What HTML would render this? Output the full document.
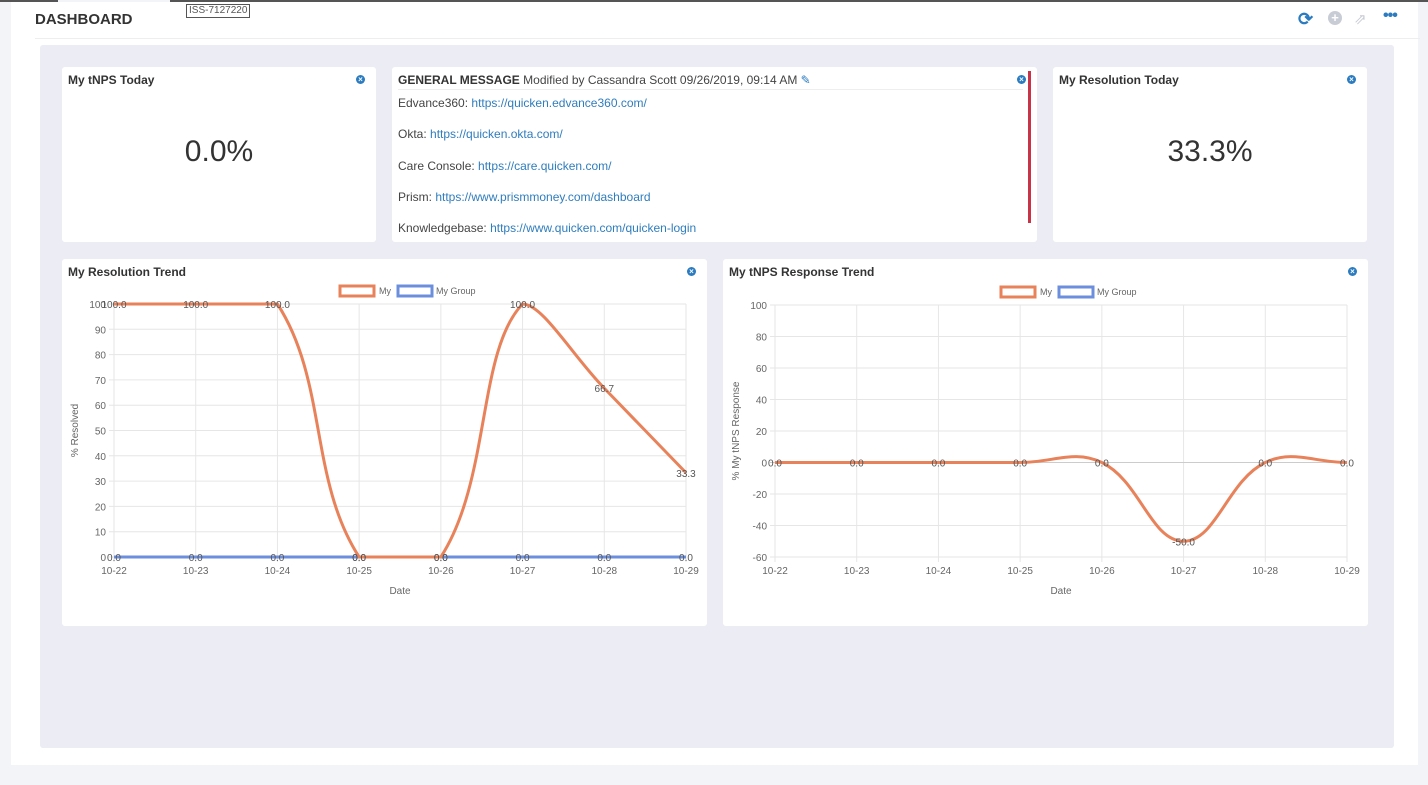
<!DOCTYPE html>
<html><head><meta charset="utf-8"><style>
body{margin:0;width:1428px;height:785px;background:#f3f4f8;font-family:"Liberation Sans",sans-serif;position:relative;overflow:hidden}
.abs{position:absolute}
.card{position:absolute;background:#fff;border-radius:3px}
.t{position:absolute;font-weight:bold;font-size:12px;color:#333;left:6px;top:6px}
.x{position:absolute;width:9px;height:9px;border-radius:50%;background:#2a7bc0;color:#fff;font-size:8px;line-height:9px;text-align:center;font-weight:bold}
.big{position:absolute;width:100%;text-align:center;font-size:30px;color:#333;top:68px}
.msg{font-size:12px;color:#444;position:absolute;left:6px}
.msg a{color:#2f7dbd;text-decoration:none}
</style></head><body>
<div class="abs" style="left:0;top:0;width:58px;height:2px;background:#555"></div>
<div class="abs" style="left:170px;top:0;width:1258px;height:2px;background:#555"></div>
<div class="abs" style="left:11px;top:2px;width:1407px;height:763px;background:#fff"></div>
<div class="abs" style="left:35px;top:11px;font-weight:bold;font-size:15px;color:#333">DASHBOARD</div>
<div class="abs" style="left:186px;top:4px;border:1px solid #555;font-size:10px;color:#555;padding:0 2px;line-height:12px">ISS-7127220</div>
<div class="abs" style="left:35px;top:38px;width:1385px;height:1px;background:#eee"></div>
<div class="abs" style="left:1298px;top:9px;font-size:18px;color:#2a7bc0;font-weight:bold">⟳</div>
<div class="abs" style="left:1328px;top:11px;width:14px;height:14px;border-radius:50%;background:#c8ccd4;color:#fff;font-size:13px;line-height:14px;text-align:center;font-weight:bold">+</div>
<div class="abs" style="left:1354px;top:10px;font-size:15px;color:#c8ccd4">⇗</div>
<div class="abs" style="left:1383px;top:7px;font-size:16px;color:#2a7bc0;font-weight:bold;letter-spacing:-1px">•••</div>
<div class="abs" style="left:40px;top:45px;width:1354px;height:703px;background:#ebecf4;border-radius:3px"></div>

<div class="card" style="left:62px;top:67px;width:314px;height:175px"><div class="t">My tNPS Today</div><div class="x" style="left:294px;top:8px">×</div><div class="big">0.0%</div></div>
<div class="card" style="left:392px;top:67px;width:645px;height:175px">
<div class="t" style="font-weight:normal;color:#444"><b style="color:#333">GENERAL MESSAGE</b> Modified by Cassandra Scott 09/26/2019, 09:14 AM <span style="color:#2a7bc0">✎</span></div>
<div class="abs" style="left:6px;top:22px;width:625px;height:1px;background:#eee"></div>
<div class="x" style="left:625px;top:8px">×</div>
<div class="abs" style="left:636px;top:4px;width:3px;height:152px;background:#c93348"></div>
<div class="msg" style="top:29px">Edvance360: <a>https://quicken.edvance360.com/</a></div>
<div class="msg" style="top:60px">Okta: <a>https://quicken.okta.com/</a></div>
<div class="msg" style="top:92px">Care Console: <a>https://care.quicken.com/</a></div>
<div class="msg" style="top:123px">Prism: <a>https://www.prismmoney.com/dashboard</a></div>
<div class="msg" style="top:154px">Knowledgebase: <a>https://www.quicken.com/quicken-login</a></div>
</div>
<div class="card" style="left:1053px;top:67px;width:314px;height:175px"><div class="t">My Resolution Today</div><div class="x" style="left:294px;top:8px">×</div><div class="big">33.3%</div></div>
<div class="card" style="left:62px;top:259px;width:645px;height:367px"><div class="t">My Resolution Trend</div><div class="x" style="left:625px;top:8px">×</div></div>
<div class="card" style="left:723px;top:259px;width:645px;height:367px"><div class="t">My tNPS Response Trend</div><div class="x" style="left:625px;top:8px">×</div></div>

<svg class="abs" style="left:0;top:0" width="1428" height="785" id="s" font-family="Liberation Sans, sans-serif" font-size="10" fill="#666"></svg>
<script>
var s=document.getElementById('s'),h='';
var labs=['10-22','10-23','10-24','10-25','10-26','10-27','10-28','10-29'];
function spline(pts,yt,yb){var d='M'+pts[0][0]+','+pts[0][1];var cps=[];
function cap(p){return [p[0],Math.max(yt,Math.min(yb,p[1]))];}
for(var i=0;i<pts.length;i++){var p=pts[i-1]||pts[i],c=pts[i],n=pts[i+1]||pts[i];
var d01=Math.hypot(c[0]-p[0],c[1]-p[1]),d12=Math.hypot(n[0]-c[0],n[1]-c[1]);var sum=d01+d12||1;
var fa=0.4*d01/sum,fb=0.4*d12/sum;cps.push([cap([c[0]-fa*(n[0]-p[0]),c[1]-fa*(n[1]-p[1])]),cap([c[0]+fb*(n[0]-p[0]),c[1]+fb*(n[1]-p[1])])]);}
for(var i=1;i<pts.length;i++){d+=' C'+cps[i-1][1]+' '+cps[i][0]+' '+pts[i];}return d;}
function chart(x0,x1,yt,yb,min,max,step,ttl,data,grp){
var n=8,dx=(x1-x0)/7;function Y(v){return yb-(v-min)/(max-min)*(yb-yt);}
for(var i=0;i<n;i++){var x=x0+i*dx;h+='<line x1="'+x+'" x2="'+x+'" y1="'+yt+'" y2="'+(yb+5)+'" stroke="#e6e6e6"/>';
h+='<text x="'+x+'" y="'+(yb+17)+'" text-anchor="middle">'+labs[i]+'</text>';}
for(var v=min;v<=max;v+=step){var y=Y(v);h+='<line x1="'+(x0-5)+'" x2="'+x1+'" y1="'+y+'" y2="'+y+'" stroke="'+(v==0&&min<0?'#ccc':'#e6e6e6')+'"/>';
h+='<text x="'+(x0-8)+'" y="'+(y+4)+'" text-anchor="end">'+v+'</text>';}
h+='<text x="'+((x0+x1)/2)+'" y="'+(yb+37)+'" text-anchor="middle">Date</text>';
h+='<text transform="translate('+(x0-36)+','+((yt+yb)/2)+') rotate(-90)" text-anchor="middle">'+ttl+'</text>';
var lx=(x0+x1)/2-60;h+='<rect x="'+(lx)+'" y="'+(yt-18)+'" width="34" height="10" fill="none" stroke="#e8825a" stroke-width="3"/><text x="'+(lx+39)+'" y="'+(yt-10)+'" font-size="9">My</text>';
h+='<rect x="'+(lx+58)+'" y="'+(yt-18)+'" width="34" height="10" fill="none" stroke="#6b8fdc" stroke-width="3"/><text x="'+(lx+96)+'" y="'+(yt-10)+'" font-size="9">My Group</text>';
if(grp){var gp=grp.map(function(v,i){return [x0+i*dx,Y(v)]});h+='<path d="'+spline(gp,yt,yb)+'" fill="none" stroke="#6b8fdc" stroke-width="3"/>';}
var pts=data.map(function(v,i){return [x0+i*dx,Y(v)]});h+='<path d="'+spline(pts,yt,yb)+'" fill="none" stroke="#e8825a" stroke-width="3"/>';
data.forEach(function(v,i){h+='<text x="'+(x0+i*dx)+'" y="'+(Y(v)+4)+'" text-anchor="middle" fill="#555">'+v.toFixed(1)+'</text>';});
if(grp)grp.forEach(function(v,i){h+='<text x="'+(x0+i*dx)+'" y="'+(Y(v)+4)+'" text-anchor="middle" fill="#555">'+v.toFixed(1)+'</text>';});}
chart(114,686,304,557,0,100,10,'% Resolved',[100,100,100,0,0,100,66.7,33.3],[0,0,0,0,0,0,0,0]);
chart(775,1347,305,557,-60,100,20,'% My tNPS Response',[0,0,0,0,0,-50,0,0],null);
s.innerHTML=h;
</script>
</body></html>
